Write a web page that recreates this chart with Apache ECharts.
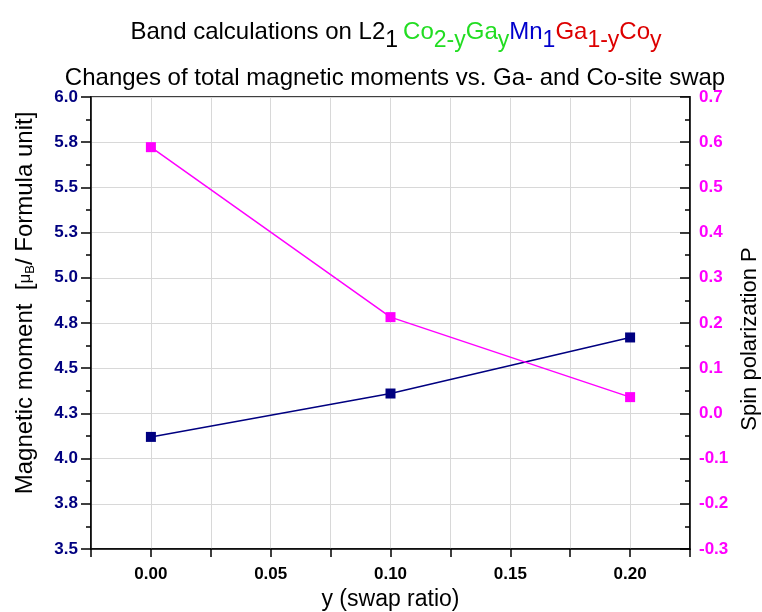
<!DOCTYPE html>
<html>
<head>
<meta charset="utf-8">
<script src="https://cdn.jsdelivr.net/npm/echarts@6/dist/echarts.min.js"></script>
<style>
  html, body { margin: 0; padding: 0; background: #fff; }
  #chart { width: 762px; height: 612px; }
</style>
</head>
<body>
<div id="chart"></div>
<script>
// swap ratio y
const swapRatio = [0.0, 0.1, 0.2];
// total magnetic moment, left axis (muB / f.u.)
const magMoment = [4.12, 4.36, 4.67];
// spin polarization P, right axis
const spinPol = [0.589, 0.213, 0.036];

const FONT = "Liberation Sans, Arial, sans-serif";
const NAVY = "#000080";
const PINK = "#ff00ff";

const chart = echarts.init(document.getElementById("chart"));

const sub = (color) => ({
  fontSize: 23, color: color, fontFamily: FONT, fontWeight: "normal", padding: [16, 0, 0, 0]
});
const main = (color) => ({
  fontSize: 24, color: color, fontFamily: FONT, fontWeight: "normal"
});

const option = {
  backgroundColor: "#fff",
  animation: false,
  title: [
    {
      left: 391,
      top: 8,
      textAlign: "center",
      text: "{k|Band calculations on L2}{ks|1} {g|Co}{gs|2-y}{g|Ga}{gs|y}{n|Mn}{ns|1}{r|Ga}{rs|1-y}{r|Co}{rs|y}",
      textStyle: {
        fontWeight: "normal",
        rich: {
          k: main("#000"), ks: sub("#000"),
          g: main("#22dd22"), gs: sub("#22dd22"),
          n: main("#0000cc"), ns: sub("#0000cc"),
          r: main("#dd0000"), rs: sub("#dd0000")
        }
      }
    },
    {
      left: 390,
      top: 61,
      textAlign: "center",
      text: "Changes of total magnetic moments vs. Ga- and Co-site swap",
      textStyle: { fontSize: 24, fontWeight: "normal", color: "#000", fontFamily: FONT }
    }
  ],
  grid: {
    left: 91, right: 72, top: 97, bottom: 63,
    outerBoundsMode: "none",
    containLabel: false,
    show: true, borderColor: "#000", borderWidth: 1.5, backgroundColor: "transparent"
  },
  xAxis: {
    type: "value",
    min: -0.025,
    max: 0.225,
    interval: 0.025,
    name: "y (swap ratio)",
    nameLocation: "middle",
    nameGap: 38,
    nameTextStyle: { fontSize: 23, color: "#000", fontFamily: FONT },
    axisLine: { show: true, onZero: false, lineStyle: { color: "#000", width: 1.5 } },
    axisTick: { show: true, length: 8, lineStyle: { color: "#000", width: 1.5 } },
    axisLabel: {
      margin: 17,
      fontSize: 17, fontWeight: "bold", color: "#000", fontFamily: FONT,
      formatter: (v) => {
        const k = Math.round(v / 0.025);
        return (k % 2 === 0 && k >= 0 && k <= 8) ? v.toFixed(2) : "";
      }
    },
    splitLine: { show: true, lineStyle: { color: "#d8d8d8", width: 1 } }
  },
  yAxis: [
    {
      type: "value",
      position: "left",
      min: 3.5,
      max: 6.0,
      interval: 0.25,
      name: "{sp|}Magnetic moment  [{m|μ}{b|B}/ Formula unit]",
      nameLocation: "middle",
      nameGap: 54,
      nameTextStyle: {
        fontSize: 24, color: "#000", fontFamily: FONT,
        rich: {
          sp: { width: 40 },
          m: { fontSize: 17, color: "#000", fontFamily: FONT },
          b: { fontSize: 13, color: "#000", fontFamily: FONT, padding: [10, 0, 0, 0] }
        }
      },
      axisLine: { show: true, onZero: false, lineStyle: { color: "#000", width: 1.5 } },
      axisTick: { show: true, length: 10, lineStyle: { color: "#000", width: 1.5 } },
      minorTick: { show: true, splitNumber: 2, length: 5, lineStyle: { color: "#000", width: 1.5 } },
      axisLabel: {
        margin: 13,
        fontSize: 17, fontWeight: "bold", color: NAVY, fontFamily: FONT,
        formatter: (v) => v.toFixed(1)
      },
      splitLine: { show: true, lineStyle: { color: "#d8d8d8", width: 1 } }
    },
    {
      type: "value",
      position: "right",
      min: -0.3,
      max: 0.7,
      interval: 0.1,
      name: "Spin polarization P{sp|}",
      nameLocation: "middle",
      nameGap: 48,
      nameRotate: 90,
      nameTextStyle: {
        fontSize: 22, color: "#000", fontFamily: FONT,
        rich: { sp: { width: 32 } }
      },
      axisLine: { show: true, onZero: false, lineStyle: { color: "#000", width: 1.5 } },
      axisTick: { show: true, inside: true, length: 10, lineStyle: { color: "#000", width: 1.5 } },
      minorTick: { show: true, splitNumber: 2, length: 5, lineStyle: { color: "#000", width: 1.5 } },
      axisLabel: {
        margin: 9,
        fontSize: 17, fontWeight: "bold", color: PINK, fontFamily: FONT,
        formatter: (v) => (Math.abs(v) < 1e-9 ? 0 : v).toFixed(1)
      },
      splitLine: { show: false }
    }
  ],
  series: [
    {
      name: "Magnetic moment",
      type: "line",
      yAxisIndex: 0,
      data: swapRatio.map((x, i) => [x, magMoment[i]]),
      symbol: "rect",
      symbolSize: 10,
      itemStyle: { color: NAVY },
      lineStyle: { color: NAVY, width: 1.5 }
    },
    {
      name: "Spin polarization",
      type: "line",
      yAxisIndex: 1,
      data: swapRatio.map((x, i) => [x, spinPol[i]]),
      symbol: "rect",
      symbolSize: 10,
      itemStyle: { color: PINK },
      lineStyle: { color: PINK, width: 1.5 }
    }
  ]
};

chart.setOption(option);
</script>
</body>
</html>
